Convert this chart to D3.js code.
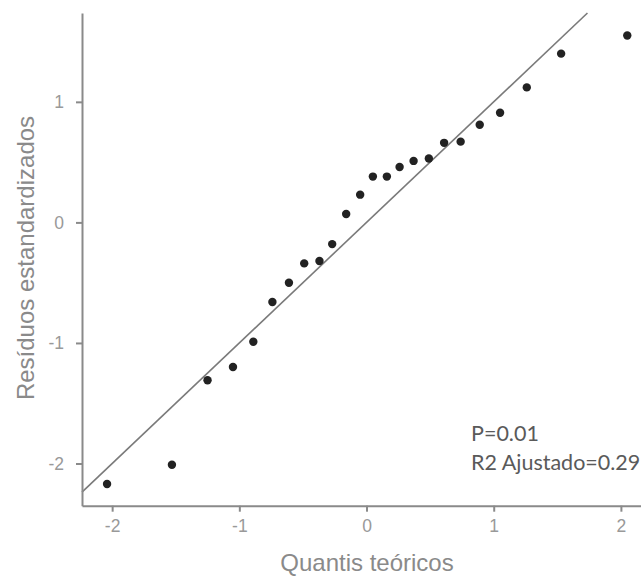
<!DOCTYPE html>
<html>
<head>
<meta charset="utf-8">
<script src="https://cdn.jsdelivr.net/npm/d3@7"></script>
<style>
  html, body { margin: 0; padding: 0; background: #fff; }
  svg { display: block; }
</style>
</head>
<body>
<svg id="chart" width="641" height="576"></svg>
<script>
// Theoretical quantiles (x) and standardized residuals (y)
const theoreticalQuantiles = [-2.04, -1.53, -1.25, -1.05, -0.89, -0.74, -0.61, -0.49, -0.37, -0.27, -0.16, -0.05,
                               0.05, 0.16, 0.26, 0.37, 0.49, 0.61, 0.74, 0.89, 1.05, 1.26, 1.53, 2.05];
const standardizedResiduals = [-2.17, -2.01, -1.31, -1.20, -0.99, -0.66, -0.50, -0.34, -0.32, -0.18, 0.07, 0.23,
                               0.38, 0.38, 0.46, 0.51, 0.53, 0.66, 0.67, 0.81, 0.91, 1.12, 1.40, 1.55];
const xTicks = [-2, -1, 0, 1, 2];
const yTicks = [-2, -1, 0, 1];
const xDomain = [-2.237, 2.158];
const yDomain = [-2.35, 1.737];
const xTitle = "Quantis teóricos";
const yTitle = "Resíduos estandardizados";
const annotations = ["P=0.01", "R2 Ajustado=0.29"];

const svg = d3.select("#chart");
const x = d3.scaleLinear().domain(xDomain).range([82, 641]);
const y = d3.scaleLinear().domain(yDomain).range([505.7, 13]);

const axisColor = "#8a8a8a";
const labelColor = "#999999";

// reference line y = x
const lo = Math.max(xDomain[0], yDomain[0]);
const hi = Math.min(xDomain[1], yDomain[1]);
svg.append("line")
  .attr("x1", x(lo)).attr("y1", y(lo))
  .attr("x2", x(hi)).attr("y2", y(hi))
  .attr("stroke", "#7a7a7a").attr("stroke-width", 1.6);

// axes
const gx = svg.append("g").attr("transform", `translate(0,${y(yDomain[0])})`)
  .call(d3.axisBottom(x).tickValues(xTicks).tickSize(6).tickSizeOuter(0).tickPadding(8)
        .tickFormat(d3.format("d")));
const gy = svg.append("g").attr("transform", `translate(${x(xDomain[0])},0)`)
  .call(d3.axisLeft(y).tickValues(yTicks).tickSize(6).tickSizeOuter(0).tickPadding(12)
        .tickFormat(d3.format("d")));
[gx, gy].forEach(g => {
  g.select(".domain").attr("stroke", axisColor).attr("stroke-width", 2);
  g.selectAll(".tick line").attr("stroke", axisColor).attr("stroke-width", 2);
  g.selectAll(".tick text").attr("fill", labelColor)
    .style("font-family", "'Liberation Sans', Arial, sans-serif").style("font-size", "17.5px");
});
gx.selectAll(".tick text").text(d => d < 0 ? "-" + Math.abs(d) : d);
gy.selectAll(".tick text").text(d => d < 0 ? "-" + Math.abs(d) : d);

// points
svg.append("g").selectAll("circle")
  .data(theoreticalQuantiles.map((q, i) => [q, standardizedResiduals[i]]))
  .join("circle")
  .attr("cx", d => x(d[0])).attr("cy", d => y(d[1]))
  .attr("r", 4.2).attr("fill", "#222");

// axis titles
svg.append("text")
  .attr("x", 367).attr("y", 571)
  .attr("text-anchor", "middle")
  .attr("fill", "#8a8a8a")
  .style("font-family", "'Liberation Sans', Arial, sans-serif").style("font-size", "24px")
  .text(xTitle);
svg.append("text")
  .attr("transform", "translate(34,258) rotate(-90)")
  .attr("text-anchor", "middle")
  .attr("fill", "#8a8a8a")
  .style("font-family", "'Liberation Sans', Arial, sans-serif").style("font-size", "24px")
  .text(yTitle);

// annotation
svg.append("g").selectAll("text")
  .data(annotations)
  .join("text")
  .attr("x", 471).attr("y", (d, i) => 441 + i * 29)
  .attr("fill", "#5a5a5a")
  .style("font-family", "Lato, 'Open Sans', sans-serif").style("font-size", "21.5px")
  .text(d => d);
</script>
</body>
</html>
